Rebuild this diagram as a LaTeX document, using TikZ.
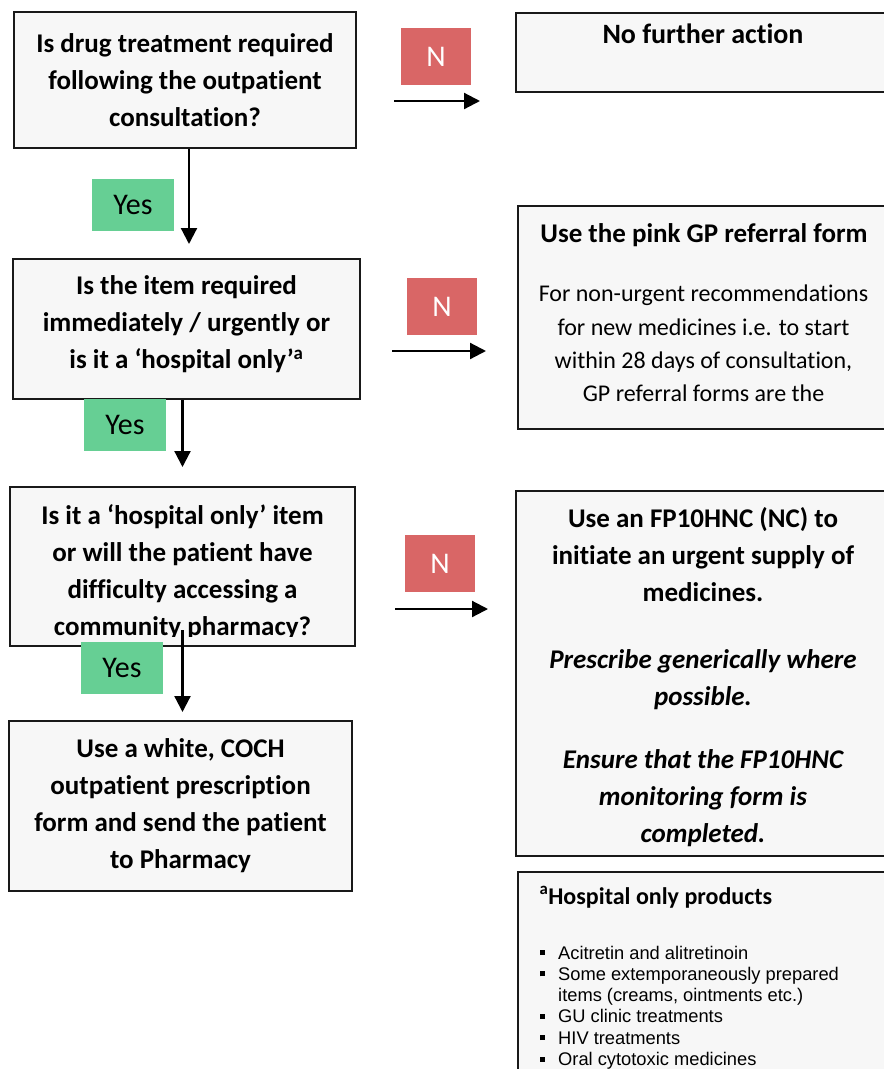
\documentclass[tikz,border=0pt]{standalone}
\usepackage{fontspec}
\setmainfont[Ligatures={TeX,NoCommon}]{Carlito}
\newfontfamily\listfont{Liberation Sans}
\usetikzlibrary{arrows.meta,calc}

\definecolor{boxgray}{HTML}{F7F7F7}
\definecolor{nored}{HTML}{D96666}
\definecolor{yesgreen}{HTML}{66CF94}

\newcommand\listbullet{\makebox[18pt][l]{\rule[4pt]{5pt}{5pt}}}

\tikzset{
	flowbox/.style={draw=black!90, line width=2pt, fill=boxgray, inner sep=0pt},
	question/.style={align=center, font=\bfseries\fontsize{27}{37}\selectfont},
	answer/.style={align=center, font=\fontsize{24}{33.3}\selectfont},
	yes label/.style={fill=yesgreen, minimum width=82pt, minimum height=52pt,
		inner sep=0pt, font=\fontsize{30}{32}\selectfont},
	no label/.style={fill=nored, text=white, minimum width=70pt, minimum height=57pt,
		inner sep=0pt, font=\fontsize{30}{32}\selectfont},
	flow/.style={line width=2.2pt, -{Triangle[length=16pt,width=16pt]}}
}

\begin{document}
\begin{tikzpicture}[x=1pt,y=-1pt]
	\useasboundingbox (0,0) rectangle (884,1069);
	\clip (0,0) rectangle (884,1069);
	% questions on the left
	\node [flowbox, question, minimum width=342pt, minimum height=136pt] (q1) at (185,80)
		{Is drug treatment required\\following the outpatient\\consultation?};
	\node [flowbox, minimum width=347pt, minimum height=140pt] (q2) at (186.5,329) {};
	\node [question] (q2-t) at (186.5,324.5)
		{Is the item required\\immediately / urgently or\\is it a ‘hospital only’\textsuperscript{a}};
	\node [flowbox, minimum width=345pt, minimum height=159pt] (q3) at (182.5,566.5) {};
	\begin{scope}
		\clip (q3.north west) rectangle ([yshift=11pt]q3.south east);
		\node [question] (q3-t) at (182.5,572)
			{Is it a ‘hospital only’ item\\or will the patient have\\difficulty accessing a\\community pharmacy?};
	\end{scope}
	\node [flowbox, question, minimum width=343pt, minimum height=170pt] (act) at (180.5,806)
		{Use a white, COCH\\outpatient prescription\\form and send the patient\\to Pharmacy};
	% outcomes on the right
	\node [flowbox, anchor=north west, minimum width=375pt, minimum height=79pt] (nfa) at (515,12) {};
	\node [question, font=\bfseries\fontsize{28}{30}\selectfont, anchor=base] (nfa-t) at (703,43)
		{No further action};
	\node [flowbox, anchor=north west, minimum width=373pt, minimum height=223pt] (pink) at (517,205) {};
	\node [question, anchor=base] (pink-t) at (704,242)
		{Use the pink GP referral form};
	\node [answer] (pink-b) at (703.5,343.6)
		{For non-urgent recommendations\\for new medicines i.e. to start\\within 28 days of consultation,\\GP referral forms are the};
	\node [flowbox, anchor=north west, minimum width=375pt, minimum height=365pt] (fp) at (515,490) {};
	\node [question] (fp-t) at (703,677)
		{Use an FP10HNC (NC) to\\initiate an urgent supply of\\medicines.\\[30pt]
		\itshape Prescribe generically where\\\itshape possible.\\[26pt]
		\itshape Ensure that the FP10HNC\\\itshape monitoring form is\\\itshape completed.};
	\node [flowbox, anchor=north west, minimum width=373pt, minimum height=220pt] (foot) at (517,871) {};
	\node [anchor=base west, font=\bfseries\fontsize{24}{26}\selectfont] (foot-t) at (536,904)
		{\textsuperscript{a}Hospital only products};
	\foreach \t [count=\i] in {\listbullet Acitretin and alitretinoin,
			\listbullet Some extemporaneously prepared,
			{\hspace*{18pt}items (creams, ointments etc.)},
			\listbullet GU clinic treatments,
			\listbullet HIV treatments,
			\listbullet Oral cytotoxic medicines}
		\node [anchor=base west, inner sep=0pt, font=\listfont\fontsize{18.3}{21}\selectfont]
			(item-\i) at (540,{959+21.3*(\i-1)}) {\t};
	% yes arrows
	\draw [flow, shorten >=14pt] ($(q1.south)+(4,0)$) -- ($(q1.south |- q2.north)+(4,0)$);
	\draw [flow, shorten >=19pt] (q3.north |- q2.south) -- (q3.north);
	\draw [flow, shorten >=8pt] ([yshift=17pt]q3.south) -- (q3.south |- act.north);
	\foreach \x/\y [count=\i] in {133/205,125/425,122/668}
		\node [yes label] (yes-\i) at (\x,\y) {Yes};
	% no arrows
	\foreach \q/\t/\l/\a/\b [count=\i] in {q1/nfa/101/37/35,q2/pink/351/31/31,q3/fp/609/39/27} {
		\coordinate (lvl-\i) at (0,\l);
		\draw [flow, shorten <=\a pt, shorten >=\b pt] (\q.east |- lvl-\i) -- (\t.west |- lvl-\i);
	}
	\foreach \x/\y [count=\i] in {436/56.5,442/306.5,440/563.5}
		\node [no label] (no-\i) at (\x,\y) {N};
\end{tikzpicture}
\end{document}
